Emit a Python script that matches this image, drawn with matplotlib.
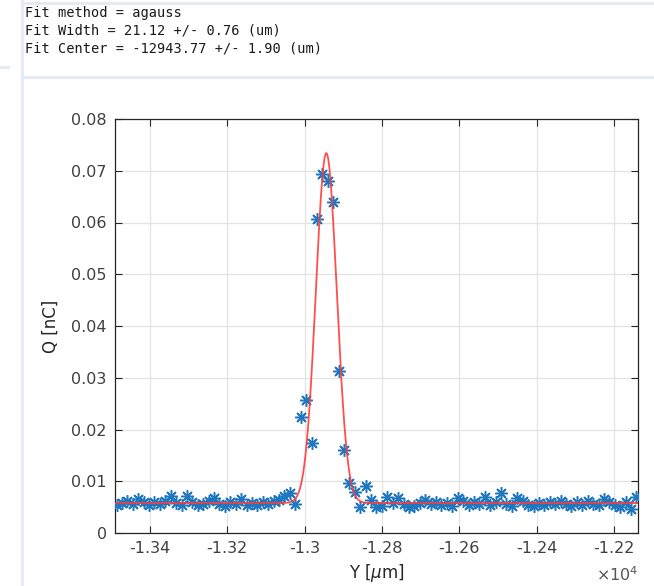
import matplotlib
matplotlib.use("Agg")
import matplotlib.pyplot as plt
import numpy as np
from matplotlib.lines import Line2D

# ---------------- data ----------------
y_pos = [-13486, -13472, -13458, -13444, -13430, -13416, -13402, -13388, -13374, -13360,
         -13346, -13332, -13318, -13304, -13290, -13276, -13262, -13248, -13234, -13220,
         -13206, -13192, -13178, -13164, -13150, -13136, -13122, -13108, -13094, -13080,
         -13066, -13052, -13038, -13024, -13010, -12996, -12982, -12968, -12954, -12940,
         -12926, -12912, -12898, -12884, -12870, -12856, -12842, -12828, -12814, -12800,
         -12786, -12772, -12758, -12744, -12730, -12716, -12702, -12688, -12674, -12660,
         -12646, -12632, -12618, -12604, -12590, -12576, -12562, -12548, -12534, -12520,
         -12506, -12492, -12478, -12464, -12450, -12436, -12422, -12408, -12394, -12380,
         -12366, -12352, -12338, -12324, -12310, -12296, -12282, -12268, -12254, -12240,
         -12226, -12212, -12198, -12184, -12170, -12156, -12142]

charge = [0.0054, 0.0058, 0.0061, 0.0056, 0.0066, 0.0059, 0.0055, 0.0060, 0.0057, 0.0062,
          0.0071, 0.0058, 0.0055, 0.0071, 0.0060, 0.0054, 0.0057, 0.0061, 0.0067, 0.0056,
          0.0053, 0.0059, 0.0056, 0.0066, 0.0055, 0.0058, 0.0054, 0.0060, 0.0057, 0.0062,
          0.0064, 0.0071, 0.0077, 0.0056, 0.0225, 0.0257, 0.0173, 0.0606, 0.0693, 0.0680,
          0.0639, 0.0313, 0.0160, 0.0097, 0.0079, 0.0050, 0.0091, 0.0064, 0.0051, 0.0052,
          0.0070, 0.0058, 0.0068, 0.0057, 0.0050, 0.0052, 0.0058, 0.0064, 0.0056, 0.0060,
          0.0055, 0.0058, 0.0053, 0.0067, 0.0061, 0.0055, 0.0059, 0.0056, 0.0070, 0.0054,
          0.0060, 0.0077, 0.0057, 0.0053, 0.0067, 0.0061, 0.0055, 0.0052, 0.0058, 0.0054,
          0.0060, 0.0056, 0.0062, 0.0057, 0.0053, 0.0059, 0.0055, 0.0061, 0.0057, 0.0054,
          0.0066, 0.0059, 0.0055, 0.0050, 0.0060, 0.0047, 0.0070]

# fit curve parameters (as drawn)
fit_offset = 0.0058
fit_amp = 0.0676
fit_center = -12943.77
fit_sigma = 27.0

x_ticks = [-13400, -13200, -13000, -12800, -12600, -12400, -12200]
x_tick_labels = ["-1.34", "-1.32", "-1.3", "-1.28", "-1.26", "-1.24", "-1.22"]
y_ticks = [0, 0.01, 0.02, 0.03, 0.04, 0.05, 0.06, 0.07, 0.08]
y_tick_labels = ["0", "0.01", "0.02", "0.03", "0.04", "0.05", "0.06", "0.07", "0.08"]

header_lines = ["Fit method = agauss",
                "Fit Width = 21.12 +/- 0.76 (um)",
                "Fit Center = -12943.77 +/- 1.90 (um)"]

# ---------------- figure ----------------
W, H = 654, 586
fig = plt.figure(figsize=(W / 100, H / 100), dpi=100)
fig.patch.set_facecolor("white")

border = "#E4E9F7"
def px_line(x0, y0, x1, y1, lw=2.0):
    fig.add_artist(Line2D([x0 / W, x1 / W], [1 - y0 / H, 1 - y1 / H],
                          color=border, lw=lw, transform=fig.transFigure))

px_line(22, 0, 22, H)          # vertical rule
px_line(22, 3, W, 3)           # top rule
px_line(22, 77, W, 77)         # rule under text
px_line(0, 67, 8, 67)          # short left stub

for i, line in enumerate(header_lines):
    fig.text(25 / W, 1 - (17 + 18 * i) / H, line, family="DejaVu Sans Mono",
             fontsize=9.8, color="#1a1a1a", va="baseline", ha="left")

ax = fig.add_axes([115 / W, 1 - 533 / H, 523 / W, 414 / H])

xf = np.linspace(-13490, -12138, 1500)
yf = fit_offset + fit_amp * np.exp(-(xf - fit_center) ** 2 / (2 * fit_sigma ** 2))

ax.plot(y_pos, charge, linestyle="none", marker=(8, 2, 0), markersize=9,
        markeredgewidth=1.1, color="#1f77c0", zorder=3)
ax.plot(xf, yf, color="#FF3B3B", lw=1.3, alpha=0.9, zorder=4)

ax.set_xlim(-13490, -12138)
ax.set_ylim(0, 0.08)
ax.set_xticks(x_ticks)
ax.set_xticklabels(x_tick_labels)
ax.set_yticks(y_ticks)
ax.set_yticklabels(y_tick_labels)

axc = "#262626"
for s in ax.spines.values():
    s.set_color(axc)
    s.set_linewidth(0.9)
ax.tick_params(direction="in", length=5, width=0.8, colors=axc, labelsize=11.5,
               top=True, right=True, pad=6)
for lab in ax.get_xticklabels() + ax.get_yticklabels():
    lab.set_color("#404040")
ax.grid(True, color="#E3E3E3", lw=0.9)
ax.set_axisbelow(True)

ax.set_xlabel("Y [$\\mu$m]", fontsize=12, color="#262626", labelpad=4)
ax.set_ylabel("Q [nC]", fontsize=12, color="#262626", labelpad=8)
fig.text(638 / W, 1 - 575 / H, "$\\times10^{4}$", fontsize=11.5, color="#555555",
         ha="right", va="center")

fig.savefig("out.png", dpi=100)
